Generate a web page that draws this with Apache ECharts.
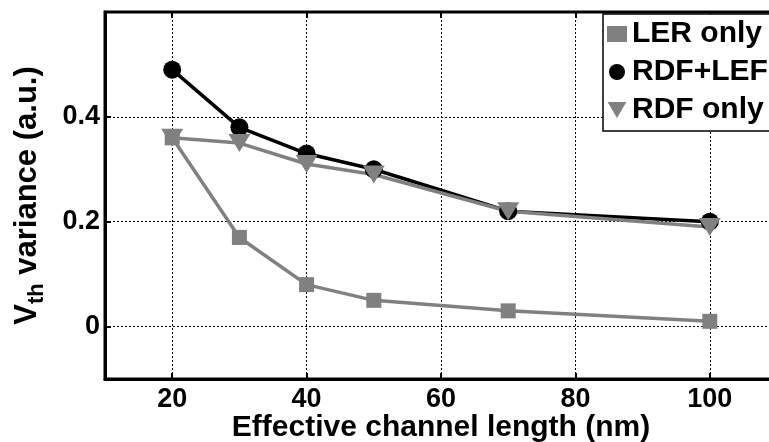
<!DOCTYPE html>
<html>
<head>
<meta charset="utf-8">
<script src="https://cdn.jsdelivr.net/npm/echarts@6/dist/echarts.min.js"></script>
<style>
  html, body { margin: 0; padding: 0; background: #fff; }
  #chart { width: 769px; height: 442px; }
</style>
</head>
<body>
<div id="chart"></div>
<script>
// Channel lengths (nm) and threshold-voltage variance for each variability source
const channelLength = [20, 30, 40, 50, 70, 100];
const lerOnly = [0.36, 0.17, 0.08, 0.05, 0.03, 0.01];
const rdfPlusLef = [0.49, 0.38, 0.33, 0.30, 0.22, 0.20];
const rdfOnly = [0.36, 0.35, 0.31, 0.29, 0.22, 0.19];
const seriesNames = ['LER only', 'RDF+LEF', 'RDF only'];
const xTicks = [20, 40, 60, 80, 100];
const yTicks = [0, 0.2, 0.4];

const FONT = '"Liberation Sans", Arial, sans-serif';
const GRAY = '#808080';
const TRI_DOWN = 'path://M0,0L10,0L5,8.5Z';

const pairs = vals => channelLength.map((x, i) => [x, vals[i]]);

const chart = echarts.init(document.getElementById('chart'), null, { renderer: 'canvas' });

const dotted = { color: '#000', width: 1, type: [2, 2] };
const tickStyle = { color: '#000', width: 2 };

chart.setOption({
  animation: false,
  backgroundColor: '#fff',
  grid: {
    left: 105, right: -8, top: 12, bottom: 63,
    containLabel: false, outerBoundsMode: 'none',
    show: true, borderColor: '#000', borderWidth: 3, backgroundColor: 'transparent'
  },
  legend: {
    orient: 'vertical',
    left: 603,
    top: 14,
    padding: [5, 30, 6, 4],
    itemGap: 8,
    itemWidth: 20,
    itemHeight: 16,
    backgroundColor: '#fff',
    borderColor: '#000',
    borderWidth: 1.5,
    borderRadius: 0,
    textStyle: { fontFamily: FONT, fontWeight: 'bold', fontSize: 30, color: '#000' },
    data: [
      { name: seriesNames[0], icon: 'rect' },
      { name: seriesNames[1], icon: 'circle' },
      { name: seriesNames[2], icon: TRI_DOWN }
    ]
  },
  xAxis: [{
    type: 'value',
    min: 10, max: 110, interval: 10,
    axisLine: { show: true, onZero: false, lineStyle: { color: '#000', width: 3 } },
    axisTick: { show: true, inside: true, length: 6, lineStyle: tickStyle, customValues: xTicks },
    axisLabel: { margin: 7, fontFamily: FONT, fontWeight: 'bold', fontSize: 27, color: '#000',
      customValues: xTicks },
    splitLine: { show: true, lineStyle: dotted },
    name: 'Effective channel length (nm)',
    nameLocation: 'middle',
    nameMoveOverlap: false,
    nameGap: 34,
    nameTextStyle: { fontFamily: FONT, fontWeight: 'bold', fontSize: 30, color: '#000' }
  }, {
    type: 'value',
    position: 'top',
    min: 10, max: 110, interval: 10,
    axisLine: { show: false, onZero: false },
    axisTick: { show: true, inside: true, length: 6, lineStyle: tickStyle, customValues: xTicks },
    axisLabel: { show: false },
    splitLine: { show: false }
  }],
  yAxis: {
    type: 'value',
    min: -0.1, max: 0.6, interval: 0.1,
    axisLine: { show: true, onZero: false, lineStyle: { color: '#000', width: 3 } },
    axisTick: { show: true, inside: true, length: 6, lineStyle: tickStyle, customValues: yTicks },
    axisLabel: { margin: 5, fontFamily: FONT, fontWeight: 'bold', fontSize: 27, color: '#000',
      customValues: yTicks,
      formatter: v => (Math.abs(v) < 1e-9 ? '0' : v.toFixed(1)) },
    splitLine: { show: true, lineStyle: dotted },
    name: '{v|V}{s|th}{v| variance (a.u.)}',
    nameLocation: 'middle',
    nameMoveOverlap: false,
    nameRotate: 90,
    nameGap: 57,
    nameTextStyle: {
      fontFamily: FONT, fontWeight: 'bold', color: '#000',
      rich: {
        v: { fontFamily: FONT, fontWeight: 'bold', fontSize: 31, color: '#000' },
        s: { fontFamily: FONT, fontWeight: 'bold', fontSize: 22, color: '#000', padding: [20, 0, 0, 0] }
      }
    }
  },
  series: [
    {
      name: seriesNames[0], type: 'line', data: pairs(lerOnly),
      symbol: 'rect', symbolSize: 15,
      itemStyle: { color: GRAY },
      lineStyle: { color: GRAY, width: 3.5 }
    },
    {
      name: seriesNames[1], type: 'line', data: pairs(rdfPlusLef),
      symbol: 'circle', symbolSize: 18,
      itemStyle: { color: '#000' },
      lineStyle: { color: '#000', width: 3.5 }
    },
    {
      name: seriesNames[2], type: 'line', data: pairs(rdfOnly),
      symbol: TRI_DOWN, symbolSize: [22, 18],
      itemStyle: { color: GRAY },
      lineStyle: { color: GRAY, width: 3.5 }
    }
  ]
});
</script>
</body>
</html>
